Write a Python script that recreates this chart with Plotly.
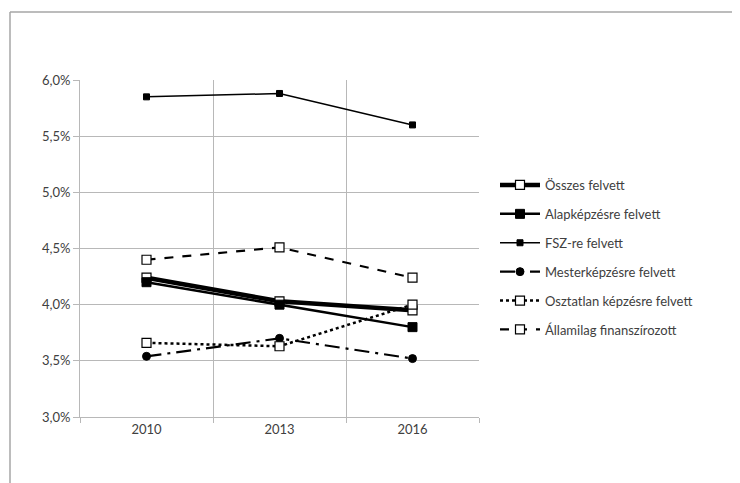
import plotly.graph_objects as go

years = ["2010", "2013", "2016"]
osszes = [4.24, 4.03, 3.95]
alap = [4.20, 4.00, 3.80]
fsz = [5.85, 5.88, 5.60]
mester = [3.54, 3.70, 3.52]
osztatlan = [3.66, 3.63, 4.00]
allami = [4.40, 4.51, 4.24]

names = ["Összes felvett", "Alapképzésre felvett", "FSZ-re felvett",
         "Mesterképzésre felvett", "Osztatlan képzésre felvett",
         "Államilag finanszírozott"]

y_ticks = [3.0, 3.5, 4.0, 4.5, 5.0, 5.5, 6.0]
y_labels = ["3,0%", "3,5%", "4,0%", "4,5%", "5,0%", "5,5%", "6,0%"]

FONT = "Lato, 'Open Sans', sans-serif"
TXT = "#404040"
GRID = "#b8b8b8"

series = [
    (names[0], osszes, dict(color="black", width=4.5, dash="solid"),
     dict(symbol="square", size=9, color="white", line=dict(color="black", width=1.2))),
    (names[1], alap, dict(color="black", width=2.5, dash="solid"),
     dict(symbol="square", size=9, color="black", line=dict(color="black", width=1))),
    (names[2], fsz, dict(color="black", width=1.5, dash="solid"),
     dict(symbol="square", size=6, color="black", line=dict(color="black", width=1))),
    (names[3], mester, dict(color="black", width=2.2, dash="longdashdot"),
     dict(symbol="circle", size=8, color="black", line=dict(color="black", width=1))),
    (names[4], osztatlan, dict(color="black", width=2.5, dash="dot"),
     dict(symbol="square", size=9, color="white", line=dict(color="black", width=1.2))),
    (names[5], allami, dict(color="black", width=2.2, dash="dash"),
     dict(symbol="square", size=9, color="white", line=dict(color="black", width=1.2))),
]

fig = go.Figure()
for i, (nm, vals, ln, mk) in enumerate(series):
    fig.add_trace(go.Scatter(x=years, y=vals, name=nm, mode="lines+markers",
                             line=ln, marker=mk, legendgroup=f"g{i}"))

OFF = 8  # page body margin
W, H = 740 - OFF, 483 - OFF
# plot area in page pixels: x 80..479, y 80..417
L, T = 80 - OFF, 80 - OFF
R = W - (479 - OFF)
B = H - (417 - OFF)
pw, ph = W - L - R, H - T - B


def px_x(x):
    return (x - OFF - L) / pw


def px_y(y):
    return 1 - (y - OFF - T) / ph


fig.update_layout(
    width=W, height=H,
    margin=dict(l=L, r=R, t=T, b=B),
    paper_bgcolor="white", plot_bgcolor="white",
    font=dict(family=FONT, size=13, color=TXT),
    showlegend=True,
    legend=dict(x=px_x(495), y=px_y(170), xanchor="left", yanchor="top",
                font=dict(family=FONT, size=13, color=TXT),
                tracegroupgap=9, itemwidth=40, bgcolor="rgba(0,0,0,0)"),
    xaxis=dict(type="category", tickson="boundaries", showgrid=True,
               gridcolor=GRID, gridwidth=1, ticks="outside", ticklen=5,
               tickcolor=GRID, showline=True, linecolor=GRID,
               tickfont=dict(size=13, color=TXT), range=[-0.5, 2.5]),
    yaxis=dict(range=[3.0, 6.0], tickvals=y_ticks, ticktext=y_labels,
               showgrid=True, gridcolor=GRID, gridwidth=1,
               ticks="outside", ticklen=6, tickcolor=GRID, showline=True,
               linecolor=GRID, zeroline=False, tickfont=dict(size=13, color=TXT)),
    shapes=[
        dict(type="line", xref="paper", yref="paper",
             x0=px_x(10), x1=px_x(760), y0=px_y(12), y1=px_y(12),
             line=dict(color="#a6a6a6", width=1.5)),
        dict(type="line", xref="paper", yref="paper",
             x0=px_x(10), x1=px_x(10), y0=px_y(12), y1=px_y(500),
             line=dict(color="#a6a6a6", width=1.5)),
    ],
)

fig.write_html("out.html")
